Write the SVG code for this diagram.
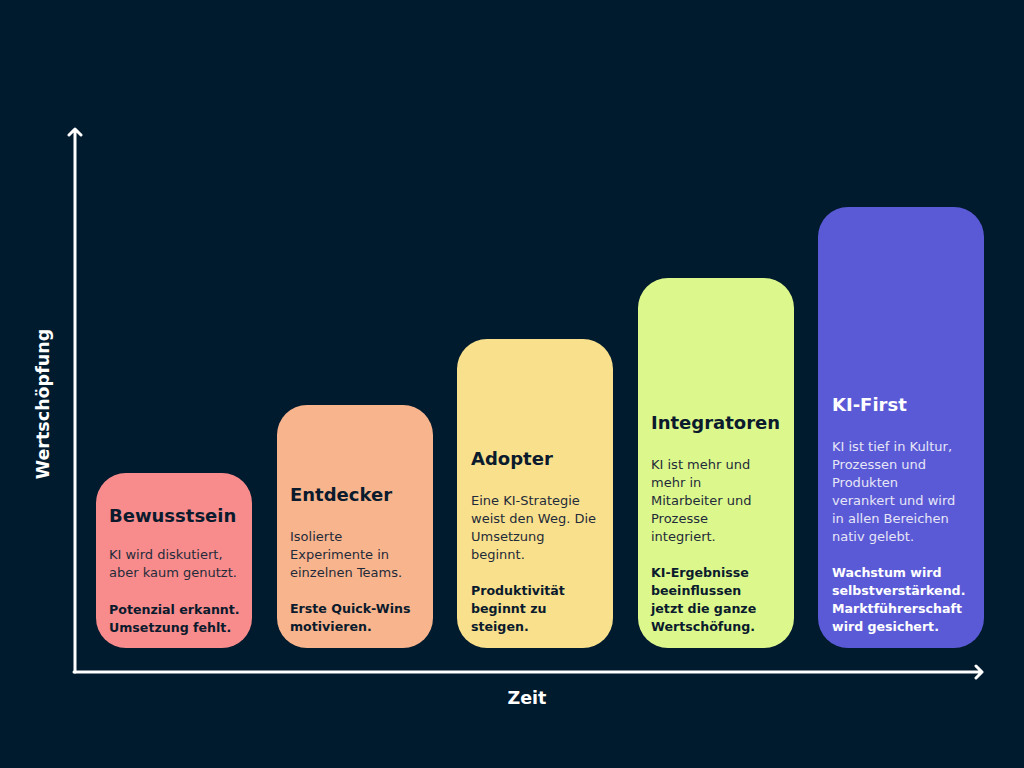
<svg xmlns="http://www.w3.org/2000/svg" width="1024" height="768" viewBox="0 0 1024 768">
<style>
.t{font-family:"DejaVu Sans","Noto Sans",sans-serif;font-weight:bold;font-size:18px;fill:#0b1b2d}
.b{font-family:"DejaVu Sans","Noto Sans",sans-serif;font-size:13px;fill:#1f2b3a}
.s{font-family:"DejaVu Sans","Noto Sans",sans-serif;font-weight:bold;font-size:12.6px;fill:#0b1b2d}
.w{fill:#ffffff}
.wb{fill:#e6e6f7}
.ax{stroke:#ffffff;stroke-width:3;fill:none;stroke-linecap:round;stroke-linejoin:round}
.al{font-family:"DejaVu Sans","Noto Sans",sans-serif;font-weight:bold;font-size:17.5px;fill:#ffffff}
</style>
<rect width="1024" height="768" fill="#001a2e"/>
<g id="axes">
<path class="ax" d="M75 672 V129 M69 135 L75 129 L81 135"/>
<path class="ax" d="M74 672 H982 M976 666 L982 672 L976 678"/>
<text class="al" x="527" y="704" text-anchor="middle">Zeit</text>
<text class="al" transform="translate(49 404) rotate(-90)" text-anchor="middle">Wertschöpfung</text>
</g>
<g id="bewusstsein">
<rect x="96" y="473" width="156" height="175" rx="30" fill="#f88c8c"/>
<text class="t" x="109" y="522">Bewusstsein</text>
<text class="b" x="109" y="559">KI wird diskutiert,</text>
<text class="b" x="109" y="577">aber kaum genutzt.</text>
<text class="s" x="109" y="614">Potenzial erkannt.</text>
<text class="s" x="109" y="632">Umsetzung fehlt.</text>
</g>
<g id="entdecker">
<rect x="277" y="405" width="156" height="243" rx="30" fill="#f8b48c"/>
<text class="t" x="290" y="501">Entdecker</text>
<text class="b" x="290" y="541">Isolierte</text>
<text class="b" x="290" y="559">Experimente in</text>
<text class="b" x="290" y="577">einzelnen Teams.</text>
<text class="s" x="290" y="613">Erste Quick-Wins</text>
<text class="s" x="290" y="631">motivieren.</text>
</g>
<g id="adopter">
<rect x="457" y="339" width="156" height="309" rx="30" fill="#f8e08c"/>
<text class="t" x="471" y="465">Adopter</text>
<text class="b" x="471" y="505">Eine KI-Strategie</text>
<text class="b" x="471" y="523">weist den Weg. Die</text>
<text class="b" x="471" y="541">Umsetzung</text>
<text class="b" x="471" y="559">beginnt.</text>
<text class="s" x="471" y="595">Produktivität</text>
<text class="s" x="471" y="613">beginnt zu</text>
<text class="s" x="471" y="631">steigen.</text>
</g>
<g id="integratoren">
<rect x="638" y="278" width="156" height="370" rx="30" fill="#dcf88c"/>
<text class="t" x="651" y="429">Integratoren</text>
<text class="b" x="651" y="469">KI ist mehr und</text>
<text class="b" x="651" y="487">mehr in</text>
<text class="b" x="651" y="505">Mitarbeiter und</text>
<text class="b" x="651" y="523">Prozesse</text>
<text class="b" x="651" y="541">integriert.</text>
<text class="s" x="651" y="577">KI-Ergebnisse</text>
<text class="s" x="651" y="595">beeinflussen</text>
<text class="s" x="651" y="613">jetzt die ganze</text>
<text class="s" x="651" y="631">Wertschöfung.</text>
</g>
<g id="ki-first">
<rect x="818" y="207" width="166" height="441" rx="30" fill="#5a5ad6"/>
<text class="t w" x="832" y="411">KI-First</text>
<text class="b wb" x="832" y="451">KI ist tief in Kultur,</text>
<text class="b wb" x="832" y="469">Prozessen und</text>
<text class="b wb" x="832" y="487">Produkten</text>
<text class="b wb" x="832" y="505">verankert und wird</text>
<text class="b wb" x="832" y="523">in allen Bereichen</text>
<text class="b wb" x="832" y="541">nativ gelebt.</text>
<text class="s w" x="832" y="577">Wachstum wird</text>
<text class="s w" x="832" y="595">selbstverstärkend.</text>
<text class="s w" x="832" y="613">Marktführerschaft</text>
<text class="s w" x="832" y="631">wird gesichert.</text>
</g>
</svg>
